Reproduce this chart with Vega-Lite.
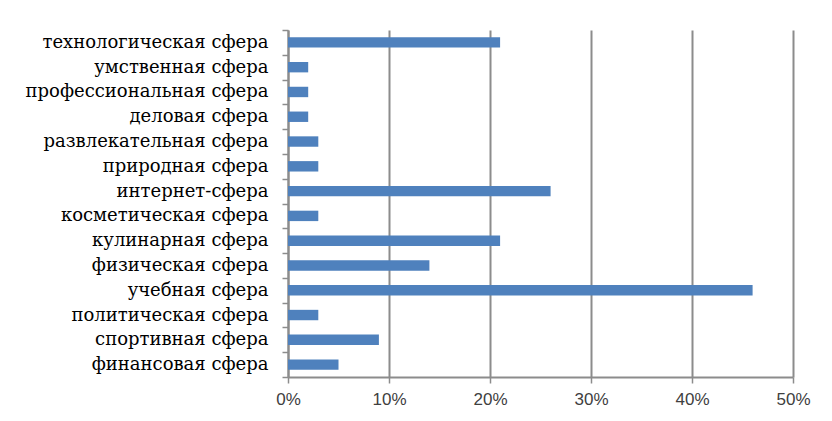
{
  "$schema": "https://vega.github.io/schema/vega-lite/v6.json",
  "autosize": "none",
  "width": 505,
  "height": 347,
  "padding": {"left": 288, "top": 30, "right": 39, "bottom": 44},
  "background": "white",
  "config": {"view": {"stroke": null}},
  "data": {
    "values": [
      {"category": "технологическая сфера", "value": 0.21},
      {"category": "умственная сфера", "value": 0.02},
      {"category": "профессиональная сфера", "value": 0.02},
      {"category": "деловая сфера", "value": 0.02},
      {"category": "развлекательная сфера", "value": 0.03},
      {"category": "природная сфера", "value": 0.03},
      {"category": "интернет-сфера", "value": 0.26},
      {"category": "косметическая сфера", "value": 0.03},
      {"category": "кулинарная  сфера", "value": 0.21},
      {"category": "физическая сфера", "value": 0.14},
      {"category": "учебная сфера", "value": 0.46},
      {"category": "политическая сфера", "value": 0.03},
      {"category": "спортивная сфера", "value": 0.09},
      {"category": "финансовая сфера", "value": 0.05}
    ]
  },
  "mark": {"type": "bar", "color": "#4f81bd", "height": {"band": 0.42}},
  "encoding": {
    "y": {
      "field": "category",
      "type": "nominal",
      "sort": null,
      "scale": {"paddingInner": 0, "paddingOuter": 0},
      "axis": {
        "title": null,
        "tickBand": "extent",
        "domainColor": "#8c8c8c",
        "domainWidth": 2,
        "tickColor": "#8c8c8c",
        "tickWidth": 1.5,
        "tickSize": 6,
        "labelPadding": 14,
        "labelFont": "DejaVu Serif",
        "labelFontSize": 18,
        "labelColor": "#000000",
        "labelLimit": 300
      }
    },
    "x": {
      "field": "value",
      "type": "quantitative",
      "scale": {"domain": [0, 0.5], "nice": false},
      "axis": {
        "title": null,
        "format": ".0%",
        "values": [0, 0.1, 0.2, 0.3, 0.4, 0.5],
        "grid": true,
        "gridColor": "#8c8c8c",
        "gridWidth": 2,
        "domainColor": "#8c8c8c",
        "domainWidth": 2,
        "tickColor": "#8c8c8c",
        "tickWidth": 1.5,
        "tickSize": 6,
        "labelPadding": 8,
        "labelFlush": false,
        "labelFont": "Liberation Sans",
        "labelFontSize": 17,
        "labelColor": "#404040"
      }
    }
  }
}
